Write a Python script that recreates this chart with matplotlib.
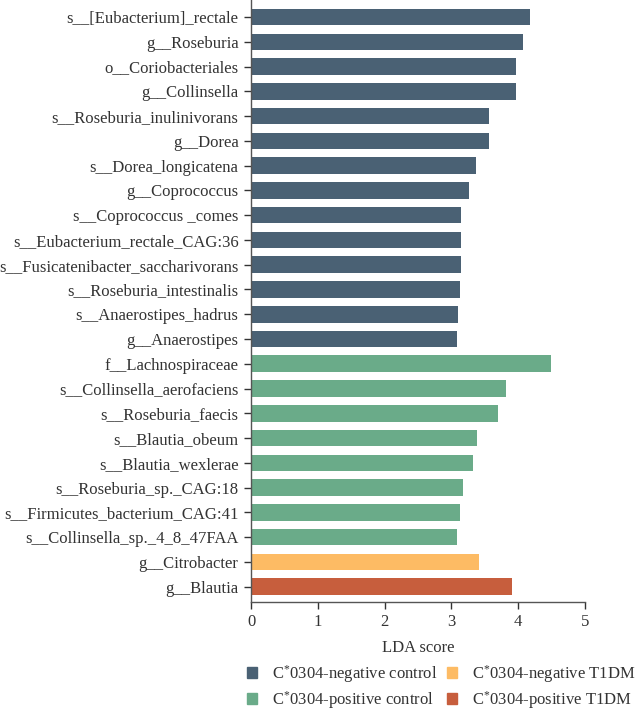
import matplotlib
matplotlib.use('Agg')
import matplotlib.pyplot as plt
from matplotlib.patches import Patch

plt.rcParams['font.family'] = ['Liberation Serif', 'DejaVu Serif']
plt.rcParams['mathtext.fontset'] = 'custom'
plt.rcParams['mathtext.rm'] = 'Liberation Serif'
plt.rcParams['mathtext.default'] = 'regular'
plt.rcParams['font.size'] = 12

taxa = ['s__[Eubacterium]_rectale', 'g__Roseburia', 'o__Coriobacteriales', 'g__Collinsella',
        's__Roseburia_inulinivorans', 'g__Dorea', 's__Dorea_longicatena', 'g__Coprococcus',
        's__Coprococcus _comes', 's__Eubacterium_rectale_CAG:36', 's__Fusicatenibacter_saccharivorans',
        's__Roseburia_intestinalis', 's__Anaerostipes_hadrus', 'g__Anaerostipes',
        'f__Lachnospiraceae', 's__Collinsella_aerofaciens', 's__Roseburia_faecis', 's__Blautia_obeum',
        's__Blautia_wexlerae', 's__Roseburia_sp._CAG:18', 's__Firmicutes_bacterium_CAG:41',
        's__Collinsella_sp._4_8_47FAA', 'g__Citrobacter', 'g__Blautia']
lda = [4.18, 4.07, 3.96, 3.96, 3.56, 3.56, 3.37, 3.27, 3.15, 3.15, 3.15, 3.13, 3.10, 3.08,
       4.49, 3.81, 3.69, 3.38, 3.32, 3.17, 3.13, 3.08, 3.41, 3.91]
group = [0] * 14 + [1] * 8 + [2] + [3]

group_names = [r'C$^{*}$0304-negative control', r'C$^{*}$0304-positive control',
               r'C$^{*}$0304-negative T1DM', r'C$^{*}$0304-positive T1DM']
colors = ['#4a6174', '#6aab89', '#fdbb64', '#c75e3d']

fig = plt.figure(figsize=(6.35, 7.12), dpi=100)
ax = fig.add_axes([0.3953, 0.1545, 0.526, 0.8455])

ypos = list(range(len(taxa)))
ax.barh(ypos, lda, height=0.67, color=[colors[g] for g in group], edgecolor='none')
ax.set_yticks(ypos)
ax.set_yticklabels(taxa, color='#333333')
ax.set_ylim(23.62, -0.69)
ax.set_xlim(0, 5)
ax.set_xticks([0, 1, 2, 3, 4, 5])
ax.tick_params(axis='x', colors='#333333', length=5, width=1, pad=4)
ax.tick_params(axis='y', colors='#333333', length=5, width=1, pad=4)
ax.set_xlabel('LDA score', color='#333333', labelpad=7)
for s in ['top', 'right']:
    ax.spines[s].set_visible(False)
for s in ['left', 'bottom']:
    ax.spines[s].set_color('#555555')
    ax.spines[s].set_linewidth(1)

handles = [Patch(color=c) for c in colors]
fig.legend(handles, group_names, loc='upper left', bbox_to_anchor=(0.365, 0.09),
           ncol=2, frameon=False, handlelength=0.6, handleheight=0.6,
           columnspacing=0.6, labelspacing=0.25, handletextpad=0.9, labelcolor='#333333')

fig.savefig('out.png', dpi=100)
